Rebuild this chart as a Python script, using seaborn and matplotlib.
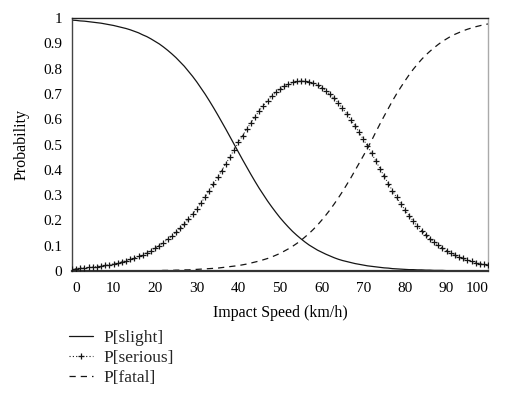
# Injury-severity probabilities vs impact speed
import numpy as np
import pandas as pd
import matplotlib
matplotlib.use("Agg")
import matplotlib.pyplot as plt
from matplotlib.lines import Line2D
import seaborn as sns

# ----------------------------------------
# data (1 km/h steps)
# ----------------------------------------
speed_kmh = list(range(0, 101))

p_slight = [
    0.991, 0.990, 0.988, 0.987, 0.985, 0.983, 0.981, 0.979, 0.976, 0.973,
    0.970, 0.966, 0.962, 0.958, 0.953, 0.947, 0.941, 0.933, 0.926, 0.917,
    0.907, 0.897, 0.885, 0.872, 0.858, 0.843, 0.826, 0.809, 0.789, 0.769,
    0.747, 0.723, 0.699, 0.673, 0.646, 0.618, 0.589, 0.560, 0.530, 0.500,
    0.470, 0.440, 0.411, 0.382, 0.354, 0.327, 0.302, 0.277, 0.254, 0.232,
    0.211, 0.192, 0.174, 0.157, 0.142, 0.128, 0.115, 0.103, 0.093, 0.083,
    0.075, 0.067, 0.060, 0.053, 0.047, 0.042, 0.038, 0.034, 0.030, 0.027,
    0.024, 0.021, 0.019, 0.017, 0.015, 0.013, 0.012, 0.010, 0.009, 0.008,
    0.007, 0.006, 0.006, 0.005, 0.005, 0.004, 0.004, 0.003, 0.003, 0.003,
    0.002, 0.002, 0.002, 0.002, 0.001, 0.001, 0.001, 0.001, 0.001, 0.001,
    0.001,
]

p_serious = [
    0.009, 0.010, 0.012, 0.013, 0.015, 0.016, 0.018, 0.021, 0.023, 0.026,
    0.029, 0.033, 0.037, 0.041, 0.046, 0.052, 0.058, 0.065, 0.073, 0.081,
    0.091, 0.101, 0.113, 0.125, 0.139, 0.153, 0.169, 0.187, 0.205, 0.225,
    0.247, 0.269, 0.293, 0.318, 0.343, 0.370, 0.397, 0.425, 0.452, 0.480,
    0.508, 0.535, 0.561, 0.586, 0.610, 0.633, 0.654, 0.673, 0.690, 0.706,
    0.719, 0.730, 0.739, 0.745, 0.749, 0.751, 0.750, 0.747, 0.742, 0.734,
    0.725, 0.712, 0.698, 0.682, 0.664, 0.643, 0.622, 0.598, 0.574, 0.548,
    0.521, 0.494, 0.465, 0.435, 0.405, 0.375, 0.346, 0.318, 0.291, 0.266,
    0.242, 0.219, 0.198, 0.178, 0.160, 0.143, 0.128, 0.115, 0.102, 0.091,
    0.081, 0.072, 0.063, 0.056, 0.050, 0.044, 0.039, 0.034, 0.030, 0.027,
    0.023,
]

p_fatal = [
    0.000, 0.000, 0.000, 0.000, 0.000, 0.000, 0.000, 0.000, 0.001, 0.001,
    0.001, 0.001, 0.001, 0.001, 0.001, 0.001, 0.001, 0.001, 0.002, 0.002,
    0.002, 0.002, 0.003, 0.003, 0.003, 0.004, 0.004, 0.005, 0.005, 0.006,
    0.007, 0.008, 0.009, 0.010, 0.011, 0.012, 0.014, 0.016, 0.018, 0.020,
    0.022, 0.025, 0.028, 0.032, 0.036, 0.040, 0.045, 0.050, 0.056, 0.063,
    0.070, 0.079, 0.088, 0.098, 0.109, 0.121, 0.135, 0.149, 0.165, 0.182,
    0.201, 0.221, 0.242, 0.265, 0.289, 0.314, 0.341, 0.368, 0.397, 0.426,
    0.455, 0.485, 0.516, 0.549, 0.581, 0.612, 0.642, 0.672, 0.700, 0.726,
    0.751, 0.775, 0.797, 0.817, 0.836, 0.853, 0.868, 0.882, 0.895, 0.907,
    0.917, 0.927, 0.935, 0.942, 0.949, 0.955, 0.960, 0.965, 0.969, 0.973,
    0.976,
]

x_ticks = [0, 10, 20, 30, 40, 50, 60, 70, 80, 90, 100]
y_ticks = [0, 0.1, 0.2, 0.3, 0.4, 0.5, 0.6, 0.7, 0.8, 0.9, 1]
y_tick_labels = ["0", "0.1", "0.2", "0.3", "0.4", "0.5", "0.6", "0.7", "0.8", "0.9", "1"]

labels = ["P[slight]", "P[serious]", "P[fatal]"]

df = pd.DataFrame({
    "speed": speed_kmh,
    "slight": p_slight,
    "serious": p_serious,
    "fatal": p_fatal,
})

# ----------------------------------------
# style
# ----------------------------------------
sns.set_theme(style="white")
plt.rcParams["font.family"] = ["Liberation Serif", "DejaVu Serif"]

fig = plt.figure(figsize=(5.21, 3.97), dpi=100)
ax = fig.add_axes([0.138, 0.317, 0.799, 0.638])

ink = "#151515"
dots = (0, (1, 2))
dashes = (0, (5, 4))

sns.lineplot(data=df, x="speed", y="slight", ax=ax, color=ink,
             linewidth=0.9)
sns.lineplot(data=df, x="speed", y="serious", ax=ax, color=ink,
             linewidth=0.7, linestyle=dots)
sns.scatterplot(data=df, x="speed", y="serious", ax=ax, color=ink,
                marker="+", s=22, linewidth=0.9, zorder=3)
sns.lineplot(data=df, x="speed", y="fatal", ax=ax, color=ink,
             linewidth=0.9, linestyle=dashes)

ax.set_xlim(0, 100)
ax.set_ylim(0, 1)
ax.set_xticks(x_ticks)
ax.set_yticks(y_ticks)
ax.set_yticklabels(y_tick_labels)
ax.tick_params(axis="both", length=0, labelsize=11, colors="black")
ax.tick_params(axis="x", pad=8)
ax.tick_params(axis="y", pad=7)

# end labels sit inside the frame
xt = ax.get_xticklabels()
xt[0].set_horizontalalignment("left")
xt[-1].set_horizontalalignment("right")

ax.set_xlabel("Impact Speed (km/h)", fontsize=11.5, labelpad=7, color="black")
ax.set_ylabel("Probability", fontsize=11.5, labelpad=10, color="black")

for side, lw, col in [("top", 1.0, "#222222"), ("left", 1.0, "#444444"),
                      ("right", 1.0, "#aaaaaa"), ("bottom", 1.6, "#333333")]:
    ax.spines[side].set_visible(True)
    ax.spines[side].set_linewidth(lw)
    ax.spines[side].set_color(col)

# ----------------------------------------
# legend below the plot
# ----------------------------------------
handles = [
    Line2D([], [], color=ink, linewidth=0.9),
    Line2D([], [], color=ink, linewidth=0.8, linestyle=dots, marker="+",
           markersize=5, markeredgewidth=0.9),
    Line2D([], [], color=ink, linewidth=0.9, linestyle=dashes),
]
fig.legend(handles, labels, loc="upper left", bbox_to_anchor=(0.133, 0.168),
           frameon=False, fontsize=12.5, handlelength=1.35, handletextpad=0.62,
           labelspacing=0.22, borderaxespad=0, borderpad=0, numpoints=1)

fig.savefig("out.png", dpi=100, facecolor="white")
